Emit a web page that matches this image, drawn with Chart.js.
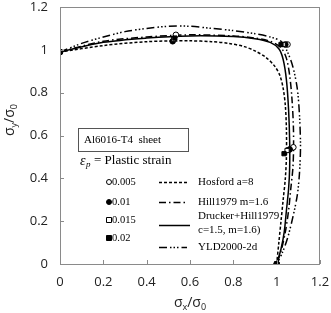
<!DOCTYPE html>
<html>
<head>
<meta charset="utf-8">
<script src="https://cdn.jsdelivr.net/npm/chart.js@4/dist/chart.umd.min.js"></script>
<style>
    body { margin: 0; background: #fff; }
    #wrap { width: 331px; height: 313px; position: relative; }
</style>
</head>
<body>
<div id="wrap"><canvas id="yieldChart"></canvas></div>
<script>
// 轴刻度
const axisTicks = [0, 0.2, 0.4, 0.6, 0.8, 1, 1.2];

// 屈服曲线 (σx/σ0, σy/σ0)
const hosfordX = [0, 0.2, 0.4, 0.6, 0.7, 0.78, 0.85, 0.9, 0.95, 0.99, 1.015, 1.03, 1.04, 1.045, 1.045, 1.04, 1.03, 1.02, 1.01, 1.0];
const hosfordY = [0.99, 1.02, 1.038, 1.042, 1.038, 1.03, 1.015, 0.995, 0.965, 0.925, 0.88, 0.82, 0.74, 0.63, 0.5, 0.4, 0.3, 0.2, 0.1, 0];

const hillX = [0, 0.2, 0.4, 0.6, 0.8, 0.9, 0.97, 1.02, 1.045, 1.06, 1.07, 1.077, 1.078, 1.075, 1.065, 1.055, 1.04, 1.02, 1.0];
const hillY = [0.99, 1.04, 1.06, 1.07, 1.065, 1.055, 1.04, 1.01, 0.96, 0.88, 0.78, 0.65, 0.55, 0.45, 0.35, 0.25, 0.15, 0.06, 0];

const druckerX = [0, 0.2, 0.4, 0.6, 0.8, 0.9, 0.97, 1.01, 1.03, 1.045, 1.055, 1.06, 1.06, 1.055, 1.045, 1.035, 1.02, 1.0];
const druckerY = [0.99, 1.035, 1.055, 1.065, 1.062, 1.052, 1.035, 1.005, 0.955, 0.86, 0.72, 0.57, 0.45, 0.35, 0.25, 0.15, 0.07, 0];

const yldX = [0, 0.1, 0.2, 0.3, 0.4, 0.5, 0.6, 0.7, 0.8, 0.9, 0.97, 1.02, 1.05, 1.075, 1.095, 1.105, 1.11, 1.105, 1.095, 1.075, 1.05, 1.025, 1.0];
const yldY = [0.99, 1.03, 1.06, 1.085, 1.1, 1.11, 1.11, 1.1, 1.09, 1.075, 1.06, 1.04, 0.99, 0.92, 0.82, 0.7, 0.55, 0.42, 0.32, 0.22, 0.12, 0.05, 0];

// 实验点 (塑性应变)
const strain005X = [0, 0.535, 1.05, 1.077, 1.0];
const strain005Y = [0.99, 1.07, 1.025, 0.545, 0];
const strain01X = [0, 0.52, 1.04, 1.06, 1.0];
const strain01Y = [0.99, 1.04, 1.025, 0.535, 0];
const strain015X = [0, 0.525, 1.03, 1.048, 1.0];
const strain015Y = [0.99, 1.05, 1.025, 0.53, 0];
const strain02X = [0, 0.53, 1.02, 1.034, 1.0];
const strain02Y = [0.99, 1.055, 1.025, 0.515, 0];

const lineNames = ['Hosford a=8', 'Hill1979 m=1.6', 'Drucker+Hill1979', 'YLD2000-2d'];
const strainNames = ['0.005', '0.01', '0.015', '0.02'];

function toPoints(xs, ys) {
    return xs.map((x, i) => ({ x: x, y: ys[i] }));
}

const dashes = [[3, 2], [7, 3, 1.5, 3], [], [8, 3, 1.5, 2, 1.5, 2, 1.5, 3]];

function lineSet(label, xs, ys, dash) {
    return {
        label: label,
        data: toPoints(xs, ys),
        showLine: true,
        borderColor: '#000',
        borderWidth: 1.5,
        borderDash: dash,
        pointRadius: 0,
        tension: 0.3,
        fill: false,
        order: 5
    };
}

function markerSet(label, xs, ys, style, filled, order) {
    return {
        label: label,
        data: toPoints(xs, ys),
        showLine: false,
        pointStyle: style,
        pointRadius: style === 'rect' ? 3 : 2.8,
        borderWidth: 1,
        borderColor: '#000',
        backgroundColor: filled ? '#000' : '#fff',
        order: order
    };
}

// 图框、内刻度、轴标题和图例
const decorPlugin = {
    id: 'decor',
    afterDraw(chart) {
        const ctx = chart.ctx;
        const xs = chart.scales.x, ys = chart.scales.y;
        const left = xs.getPixelForValue(0), right = xs.getPixelForValue(1.2);
        const top = ys.getPixelForValue(1.2), bottom = ys.getPixelForValue(0);
        ctx.save();

        // 图框
        ctx.strokeStyle = '#8a8a8a';
        ctx.lineWidth = 1;
        ctx.setLineDash([]);
        ctx.strokeRect(left + 0.5, top + 0.5, right - left - 1, bottom - top);

        // 内刻度
        ctx.beginPath();
        axisTicks.forEach(v => {
            const px = Math.round(xs.getPixelForValue(v)) + 0.5;
            ctx.moveTo(px, bottom);
            ctx.lineTo(px, bottom - 4);
            const py = Math.round(ys.getPixelForValue(v)) + 0.5;
            ctx.moveTo(left, py);
            ctx.lineTo(left + 4, py);
        });
        ctx.stroke();

        // 轴标题 (带下标)
        function subTitle(sub) {
            ctx.font = '14px "Open Sans"';
            const w1 = ctx.measureText('σ').width;
            const wsl = ctx.measureText('/').width;
            ctx.font = '9px "Open Sans"';
            const ws = ctx.measureText(sub).width;
            const w0 = ctx.measureText('0').width;
            const total = w1 * 2 + ws + wsl + w0;
            let x = -total / 2;
            ctx.textBaseline = 'alphabetic';
            ctx.textAlign = 'left';
            ctx.font = '14px "Open Sans"';
            ctx.fillText('σ', x, 4); x += w1;
            ctx.font = '9px "Open Sans"';
            ctx.fillText(sub, x, 7); x += ws;
            ctx.font = '14px "Open Sans"';
            ctx.fillText('/', x, 4); x += wsl;
            ctx.fillText('σ', x, 4); x += w1;
            ctx.font = '9px "Open Sans"';
            ctx.fillText('0', x, 7);
        }
        ctx.fillStyle = '#222';
        ctx.save();
        ctx.translate(190, 303);
        subTitle('x');
        ctx.restore();
        ctx.save();
        ctx.translate(10, 120);
        ctx.rotate(-Math.PI / 2);
        subTitle('y');
        ctx.restore();

        // 材料框
        ctx.strokeStyle = '#555';
        ctx.strokeRect(78.5, 128.5, 110, 23);
        ctx.fillStyle = '#000';
        ctx.font = '11px "Liberation Serif"';
        ctx.textBaseline = 'middle';
        ctx.textAlign = 'left';
        ctx.fillText('Al6016-T4  sheet', 84, 140);

        // εp = Plastic strain
        ctx.font = 'italic 14px "Liberation Serif"';
        ctx.fillText('ε', 80, 161);
        ctx.font = 'italic 9px "Liberation Serif"';
        ctx.fillText('p', 86, 165);
        ctx.font = '13px "Liberation Serif"';
        ctx.fillText('= Plastic strain', 94, 161);

        // 应变图例
        const markerRows = [182, 202, 220, 238];
        ctx.font = '10.5px "Liberation Serif"';
        chart.data.datasets.filter(d => !d.showLine).forEach((d, i) => {
            const cy = markerRows[i];
            ctx.lineWidth = 1;
            ctx.strokeStyle = '#000';
            ctx.fillStyle = d.backgroundColor;
            ctx.beginPath();
            if (d.pointStyle === 'rect') {
                ctx.rect(106.5, cy - 2.5, 5, 5);
            } else {
                ctx.arc(109, cy, 2.5, 0, Math.PI * 2);
            }
            ctx.fill();
            ctx.stroke();
            ctx.fillStyle = '#000';
            ctx.fillText(d.label, 112, cy);
        });

        // 曲线图例
        const lineRows = [182, 202, 225, 247];
        chart.data.datasets.filter(d => d.showLine).forEach((d, i) => {
            const cy = lineRows[i] + 0.5;
            ctx.strokeStyle = '#000';
            ctx.lineWidth = 1.5;
            ctx.setLineDash(d.borderDash);
            ctx.beginPath();
            ctx.moveTo(159, cy);
            ctx.lineTo(i === 2 ? 190 : 187, cy);
            ctx.stroke();
            ctx.setLineDash([]);
        });
        ctx.font = '11px "Liberation Serif"';
        ctx.fillText(lineNames[0], 198, 182);
        ctx.fillText(lineNames[1], 198, 202);
        ctx.fillText(lineNames[2], 198, 216);
        ctx.fillText('c=1.5, m=1.6)', 198, 230);
        ctx.fillText(lineNames[3], 198, 247);

        ctx.restore();
    }
};

// 固定轴尺寸, 去掉标签带来的额外边距
function fixX(s) {
    s.height = 49;
    s.paddingLeft = 0;
    s.paddingRight = 0;
}
function fixY(s) {
    s.width = 60;
    s.paddingTop = 0;
    s.paddingBottom = 0;
}

document.addEventListener('DOMContentLoaded', function() {
    const ctx = document.getElementById('yieldChart').getContext('2d');

    const tickFont = { family: '"Open Sans"', size: 13 };

    new Chart(ctx, {
        type: 'scatter',
        data: {
            datasets: [
                markerSet(strainNames[0], strain005X, strain005Y, 'circle', false, 3),
                markerSet(strainNames[1], strain01X, strain01Y, 'circle', true, 2),
                markerSet(strainNames[2], strain015X, strain015Y, 'rect', false, 1),
                markerSet(strainNames[3], strain02X, strain02Y, 'rect', true, 0),
                lineSet(lineNames[0], hosfordX, hosfordY, dashes[0]),
                lineSet(lineNames[1], hillX, hillY, dashes[1]),
                lineSet(lineNames[2], druckerX, druckerY, dashes[2]),
                lineSet(lineNames[3], yldX, yldY, dashes[3])
            ]
        },
        options: {
            responsive: true,
            maintainAspectRatio: false,
            animation: false,
            layout: { padding: { top: 7, right: 11, bottom: 0, left: 0 } },
            plugins: {
                legend: { display: false },
                tooltip: { enabled: false }
            },
            scales: {
                x: {
                    type: 'linear',
                    min: 0,
                    max: 1.2,
                    afterBuildTicks: s => { s.ticks = axisTicks.map(v => ({ value: v })); },
                    afterFit: fixX,
                    grid: { display: false, drawTicks: false },
                    border: { display: false },
                    ticks: { font: tickFont, color: '#222', padding: 10, maxRotation: 0, callback: v => String(v) }
                },
                y: {
                    type: 'linear',
                    min: 0,
                    max: 1.2,
                    afterBuildTicks: s => { s.ticks = axisTicks.map(v => ({ value: v })); },
                    afterFit: fixY,
                    grid: { display: false, drawTicks: false },
                    border: { display: false },
                    ticks: { font: tickFont, color: '#222', padding: 12, callback: v => String(v) }
                }
            }
        },
        plugins: [decorPlugin]
    });
});
</script>
</body>
</html>
